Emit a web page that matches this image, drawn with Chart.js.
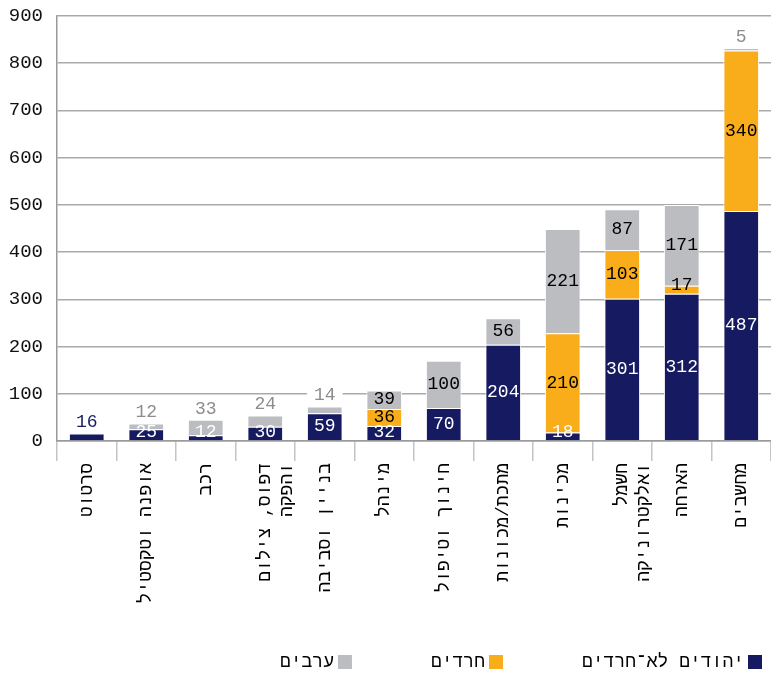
<!DOCTYPE html>
<html>
<head>
<meta charset="utf-8">
<script src="https://cdn.jsdelivr.net/npm/chart.js@4/dist/chart.umd.min.js"></script>
<style>
  html, body { margin: 0; padding: 0; background: #fff; }
  #wrap { width: 771px; height: 674px; }
</style>
</head>
<body>
<div id="wrap"><canvas id="c"></canvas></div>
<script>
// Categories, left to right
const categories = [
  'סרטוט',
  'אופנה וטקסטיל',
  'רכב',
  ['דפוס, צילום', 'והפקה'],
  'בניין וסביבה',
  'מינהל',
  'חינוך וטיפול',
  'מתכת/מכונות',
  'מכינות',
  ['חשמל', 'ואלקטרוניקה'],
  'הארחה',
  'מחשבים'
];

const seriesNames = ['יהודים לא־חרדים', 'חרדים', 'ערבים'];

// Values per series (null = no segment)
const nonHarediJews = [16, 25, 12, 30, 59, 32, 70, 204, 18, 301, 312, 487];
const haredim       = [null, null, null, null, null, 36, null, null, 210, 103, 17, 340];
const arabs         = [null, 12, 33, 24, 14, 39, 100, 56, 221, 87, 171, 5];

const yMin = 0, yMax = 900, yStep = 100;

const NAVY = '#161a61';
const ORANGE = '#f9ad1b';
const GRAY = '#bcbdc0';
const MONO = '"Liberation Mono", monospace';

// Value labels: inside each segment, or above the stack when the top segment is short
const valueLabels = {
  id: 'valueLabels',
  afterDatasetsDraw(chart) {
    const ctx = chart.ctx;
    const n = chart.data.labels.length;
    ctx.save();
    ctx.font = '18px ' + MONO;
    ctx.textAlign = 'center';
    ctx.textBaseline = 'middle';
    for (let i = 0; i < n; i++) {
      let top = -1;
      chart.data.datasets.forEach((ds, d) => { if (ds.data[i] != null) top = d; });
      chart.data.datasets.forEach((ds, d) => {
        const v = ds.data[i];
        if (v == null) return;
        const el = chart.getDatasetMeta(d).data[i];
        const p = el.getProps(['x', 'y', 'base', 'width'], true);
        if (d === top && v < 35) {
          const ty = p.y - 11;
          ctx.fillStyle = '#fff';
          ctx.fillRect(p.x - p.width / 2, ty - 9, p.width, 17);
          ctx.fillStyle = ds.outsideLabelColor;
          ctx.fillText(String(v), p.x, ty);
        } else {
          let ty = (p.y + p.base) / 2;
          ty = Math.min(ty, p.base - 8);
          ctx.fillStyle = ds.insideLabelColor;
          ctx.fillText(String(v), p.x, ty);
        }
      });
    }
    ctx.restore();
  }
};

// Legend along the bottom, laid out right to left
const bottomLegend = {
  id: 'bottomLegend',
  afterDraw(chart) {
    const ctx = chart.ctx;
    ctx.save();
    ctx.font = '18px ' + MONO;
    ctx.textBaseline = 'middle';
    ctx.textAlign = 'right';
    let xr = 762;
    const yc = 662;
    chart.data.datasets.forEach(ds => {
      ctx.fillStyle = ds.backgroundColor;
      ctx.fillRect(xr - 14, yc - 7, 14, 14);
      const tx = xr - 14 - 4;
      ctx.fillStyle = '#000';
      ctx.fillText(ds.label, tx, yc);
      const w = ctx.measureText(ds.label).width;
      xr = tx - w - 79;
    });
    ctx.restore();
  }
};

const common = { barPercentage: 0.6, categoryPercentage: 1, borderColor: '#fff', borderWidth: 1 };

new Chart(document.getElementById('c'), {
  type: 'bar',
  data: {
    labels: categories,
    datasets: [
      Object.assign({ label: seriesNames[0], data: nonHarediJews, backgroundColor: NAVY,
        insideLabelColor: '#fff', outsideLabelColor: NAVY }, common),
      Object.assign({ label: seriesNames[1], data: haredim, backgroundColor: ORANGE,
        insideLabelColor: '#000', outsideLabelColor: '#000' }, common),
      Object.assign({ label: seriesNames[2], data: arabs, backgroundColor: GRAY,
        insideLabelColor: '#000', outsideLabelColor: '#8c8c8c' }, common)
    ]
  },
  options: {
    responsive: true,
    maintainAspectRatio: false,
    animation: false,
    layout: { padding: { top: 16, left: 0, right: 0, bottom: 0 } },
    plugins: { legend: { display: false }, tooltip: { enabled: false } },
    scales: {
      x: {
        stacked: true,
        grid: { offset: true, drawOnChartArea: false, tickLength: 20, color: '#c4c4c4', lineWidth: 1.5 },
        border: { display: true, color: '#9a9a9a', width: 1.5 },
        ticks: {
          autoSkip: false, maxRotation: 90, minRotation: 90, padding: 2,
          color: '#000', font: { family: MONO, size: 18 }
        },
        afterFit(s) { s.height = 233; }
      },
      y: {
        stacked: true,
        min: yMin, max: yMax,
        grid: { color: '#a9a9a9', lineWidth: 1.5, drawTicks: false },
        border: { display: true, color: '#9a9a9a', width: 1.5 },
        ticks: {
          stepSize: yStep, padding: 14, color: '#111',
          font: { family: MONO, size: 19 }
        },
        afterFit(s) { s.width = 57; s.paddingTop = 0; s.paddingBottom = 0; }
      }
    }
  },
  plugins: [valueLabels, bottomLegend]
});
</script>
</body>
</html>
